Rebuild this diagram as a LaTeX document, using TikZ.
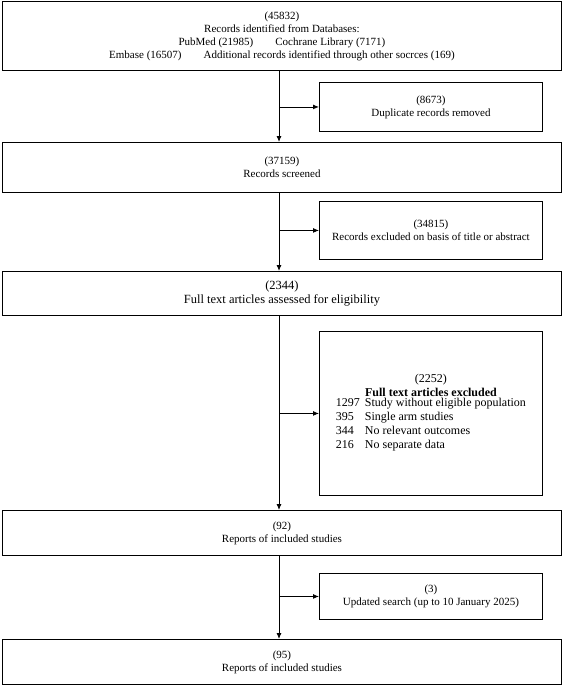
\documentclass[tikz,border=0pt]{standalone}
\usepackage{fontspec}
\setmainfont{Liberation Serif}
\usetikzlibrary{arrows.meta, positioning}
\tikzstyle{block} = [draw, fill=white, rectangle, anchor=north west, inner sep=0pt, align=center, font=\fontsize{11}{13}\selectfont]
\tikzstyle{wide} = [block, minimum width=559pt]
\tikzstyle{side} = [block, minimum width=223pt]
\newcommand{\gap}{\hspace{2em}}

\begin{document}
\begin{tikzpicture}[x=1pt, y=-1pt, line width=0.9pt, >={Latex[length=6pt,width=5pt]}]
    \useasboundingbox (0,0) rectangle (563,685);
    \node [wide, minimum height=69pt] (ident) at (2,1) {(45832)\\Records identified from Databases:\\PubMed (21985)\gap Cochrane Library (7171)\\Embase (16507)\gap Additional records identified through other socrces (169)};
    \node [side, minimum height=49pt] (dup) at (319,82) {(8673)\\Duplicate records removed};
    \node [wide, minimum height=50pt] (screen) at (2,142) {(37159)\\Records screened};
    \node [side, minimum height=58pt] (excl) at (319,201) {(34815)\\Records excluded on basis of title or abstract};
    \node [wide, minimum height=44pt, font=\fontsize{12.5}{14}\selectfont] (full) at (2,271) {(2344)\\Full text articles assessed for eligibility};
    \node [side, minimum height=164pt, font=\fontsize{12}{14}\selectfont] (fullex) at (319,331) {(2252)\\\textbf{Full text articles excluded}\\
        \begin{tabular}{@{}l@{\hspace{5pt}}l@{}}
        1297 & Study without eligible population\\
        395 & Single arm studies\\
        344 & No relevant outcomes\\
        216 & No separate data
        \end{tabular}};
    \node [wide, minimum height=45pt] (incl) at (2,510) {(92)\\Reports of included studies};
    \node [side, minimum height=46pt] (update) at (319,573) {(3)\\Updated search (up to 10 January 2025)};
    \node [wide, minimum height=45pt] (final) at (2,639) {(95)\\Reports of included studies};
    \coordinate (spine) at (279,0);
    % main flow
    \draw [->] (ident.south -| spine) -- (screen.north -| spine);
    \draw [->] (screen.south -| spine) -- (full.north -| spine);
    \draw [->] (full.south -| spine) -- (incl.north -| spine);
    \draw [->] (incl.south -| spine) -- (final.north -| spine);
    % side branches
    \draw [->] (dup.west -| spine) -- (dup.west);
    \draw [->] (excl.west -| spine) -- (excl.west);
    \draw [->] (fullex.west -| spine) -- (fullex.west);
    \draw [->] (update.west -| spine) -- (update.west);
\end{tikzpicture}
\end{document}
